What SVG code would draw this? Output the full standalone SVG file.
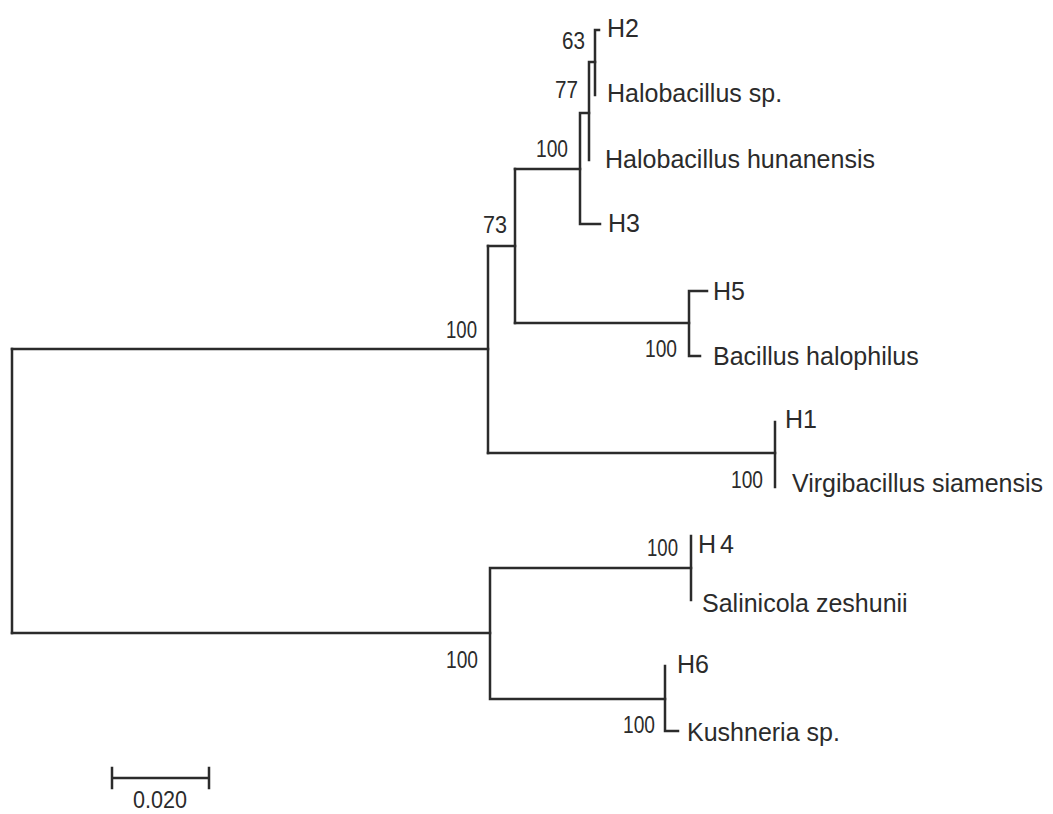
<svg xmlns="http://www.w3.org/2000/svg" width="1053" height="814" viewBox="0 0 1053 814">
<style>
.br{fill:none;stroke:#2b2b2b;stroke-width:2.5;stroke-linecap:square;stroke-linejoin:miter}
.tip{font-family:"Liberation Sans",Arial,sans-serif;font-size:25px;fill:#2b2b2b}
.bs{font-family:"Liberation Sans",Arial,sans-serif;font-size:23px;fill:#2b2b2b}
</style>
<rect width="1053" height="814" fill="#ffffff"/>
<g id="connectors">
<path class="br" d="M12,349 V633"/>
<path class="br" d="M12,349 H488 M12,633 H490"/>
<path class="br" d="M488,246 V453"/>
<path class="br" d="M488,246 H515 M488,453 H775"/>
<path class="br" d="M515,169 V323"/>
<path class="br" d="M515,169 H580 M515,323 H689"/>
<path class="br" d="M580,113 V224 M580,113 H589 M580,224 H600"/>
<path class="br" d="M589,62 V160 M589,62 H595"/>
<path class="br" d="M595,30 V95 M595,30 H599"/>
<path class="br" d="M689,291 V356 M689,291 H707 M689,356 H700"/>
<path class="br" d="M775,422 V487"/>
<path class="br" d="M490,568 V699 M490,568 H691 M490,699 H665"/>
<path class="br" d="M691,536 V600"/>
<path class="br" d="M665,666 V731 M665,731 H678"/>
</g>
<g id="taxon-H2"><text class="tip" x="607" y="37">H2</text></g>
<g id="taxon-halobacillus-sp"><text class="tip" x="607" y="102">Halobacillus sp.</text></g>
<g id="taxon-halobacillus-hunanensis"><text class="tip" x="605" y="168" textLength="270" lengthAdjust="spacingAndGlyphs">Halobacillus hunanensis</text></g>
<g id="taxon-H3"><text class="tip" x="608" y="232">H3</text></g>
<g id="taxon-H5"><text class="tip" x="713" y="300">H5</text></g>
<g id="taxon-bacillus-halophilus"><text class="tip" x="713" y="365">Bacillus halophilus</text></g>
<g id="taxon-H1"><text class="tip" x="785" y="428">H1</text></g>
<g id="taxon-virgibacillus-siamensis"><text class="tip" x="792" y="492">Virgibacillus siamensis</text></g>
<g id="taxon-H4"><text class="tip" x="698" y="553">H<tspan dx="4">4</tspan></text></g>
<g id="taxon-salinicola-zeshunii"><text class="tip" x="702" y="612">Salinicola zeshunii</text></g>
<g id="taxon-H6"><text class="tip" x="677" y="673">H6</text></g>
<g id="taxon-kushneria-sp"><text class="tip" x="687" y="741">Kushneria sp.</text></g>
<g id="bootstrap">
<text class="bs" x="562" y="49" textLength="23" lengthAdjust="spacingAndGlyphs">63</text>
<text class="bs" x="555" y="98" textLength="23" lengthAdjust="spacingAndGlyphs">77</text>
<text class="bs" x="536" y="157" textLength="32" lengthAdjust="spacingAndGlyphs">100</text>
<text class="bs" x="483" y="233" textLength="24" lengthAdjust="spacingAndGlyphs">73</text>
<text class="bs" x="446" y="338" textLength="31" lengthAdjust="spacingAndGlyphs">100</text>
<text class="bs" x="645" y="357" textLength="32" lengthAdjust="spacingAndGlyphs">100</text>
<text class="bs" x="731" y="488" textLength="32" lengthAdjust="spacingAndGlyphs">100</text>
<text class="bs" x="647" y="556" textLength="31" lengthAdjust="spacingAndGlyphs">100</text>
<text class="bs" x="446" y="668" textLength="32" lengthAdjust="spacingAndGlyphs">100</text>
<text class="bs" x="623" y="733" textLength="32" lengthAdjust="spacingAndGlyphs">100</text>
</g>
<g id="scale-bar">
<path class="br" d="M112,778 H209 M112,768 V788 M209,768 V788"/>
<text class="bs" x="133" y="808" textLength="54" lengthAdjust="spacingAndGlyphs">0.020</text>
</g>
</svg>
